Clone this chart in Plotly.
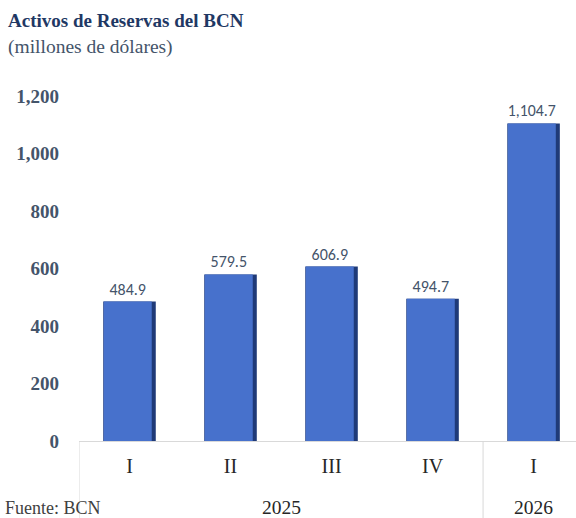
import plotly.graph_objects as go

years = ["2025", "2025", "2025", "2025", "2026"]
quarters = ["I", "II", "III", "IV", "I"]
values = [484.9, 579.5, 606.9, 494.7, 1104.7]
value_labels = ["484.9", "579.5", "606.9", "494.7", "1,104.7"]
y_ticks = [0, 200, 400, 600, 800, 1000, 1200]
y_tick_labels = ["0", "200", "400", "600", "800", "1,000", "1,200"]

serif = "Liberation Serif, Times New Roman, serif"
pos = list(range(len(values)))

fig = go.Figure()
# dark outer edge of each bar
fig.add_trace(go.Bar(
    x=pos, y=values, width=0.52, offset=-0.26,
    marker=dict(color="#1F3A78", line=dict(width=0)),
    hoverinfo="skip",
))
# bright body of each bar, with the value label
fig.add_trace(go.Bar(
    x=pos, y=values, width=0.475, offset=-0.255,
    marker=dict(color="#4771CC", line=dict(width=0)),
    text=value_labels,
    textposition="outside",
    textfont=dict(family="Carlito, Liberation Sans, sans-serif", size=16, color="#44546A"),
    cliponaxis=False,
))

# year group labels and dividers, placed from the data
annotations = []
shapes = []
groups = []
for i, yr in enumerate(years):
    if not groups or groups[-1][0] != yr:
        groups.append([yr, i, i])
    else:
        groups[-1][2] = i
for yr, a, b in groups:
    annotations.append(dict(text=yr, x=(a + b) / 2, xref="x", yref="paper",
                            y=-(507 - 441) / 345, yanchor="middle", showarrow=False,
                            font=dict(family=serif, size=19.5, color="#262626")))
    shapes.append(dict(type="line", xref="x", yref="paper", x0=a - 0.5, x1=a - 0.5,
                       y0=0, y1=-(518 - 441) / 345, line=dict(color="#D9D9D9", width=1)))

annotations += [
    dict(text="<b>Activos de Reservas del BCN</b>", xref="paper", yref="paper",
         x=-73 / 497, y=1 + (96 - 20) / 345, xanchor="left", yanchor="middle", showarrow=False,
         font=dict(family=serif, size=19, color="#1F3864")),
    dict(text="(millones de dólares)", xref="paper", yref="paper",
         x=-73 / 497, y=1 + (96 - 47) / 345, xanchor="left", yanchor="middle", showarrow=False,
         font=dict(family=serif, size=19.5, color="#44546A")),
    dict(text="Fuente: BCN", xref="paper", yref="paper",
         x=-76 / 497, y=-(508 - 441) / 345, xanchor="left", yanchor="middle", showarrow=False,
         font=dict(family=serif, size=18, color="#404040")),
]

fig.update_layout(
    width=576, height=518,
    margin=dict(l=79, r=0, t=96, b=77),
    plot_bgcolor="white", paper_bgcolor="white",
    showlegend=False,
    barmode="overlay",
    xaxis=dict(
        tickvals=pos, ticktext=quarters,
        showline=True, linecolor="#D9D9D9", linewidth=1,
        showgrid=False, zeroline=False, ticks="",
        tickfont=dict(family=serif, size=20, color="#262626"),
        ticklabelstandoff=7,
        range=[-0.5, 4.42], automargin=False,
    ),
    yaxis=dict(
        range=[0, 1200],
        tickvals=y_ticks, ticktext=y_tick_labels,
        showgrid=False, zeroline=False, showline=False,
        tickfont=dict(family=serif, size=19, color="#44546A", weight="bold"),
        ticklabelstandoff=19, automargin=False,
    ),
    annotations=annotations,
    shapes=shapes,
)

fig.write_html(
    "out.html",
    config={"displayModeBar": False},
    post_script="document.body.style.margin='0';document.body.style.overflow='hidden';",
)
